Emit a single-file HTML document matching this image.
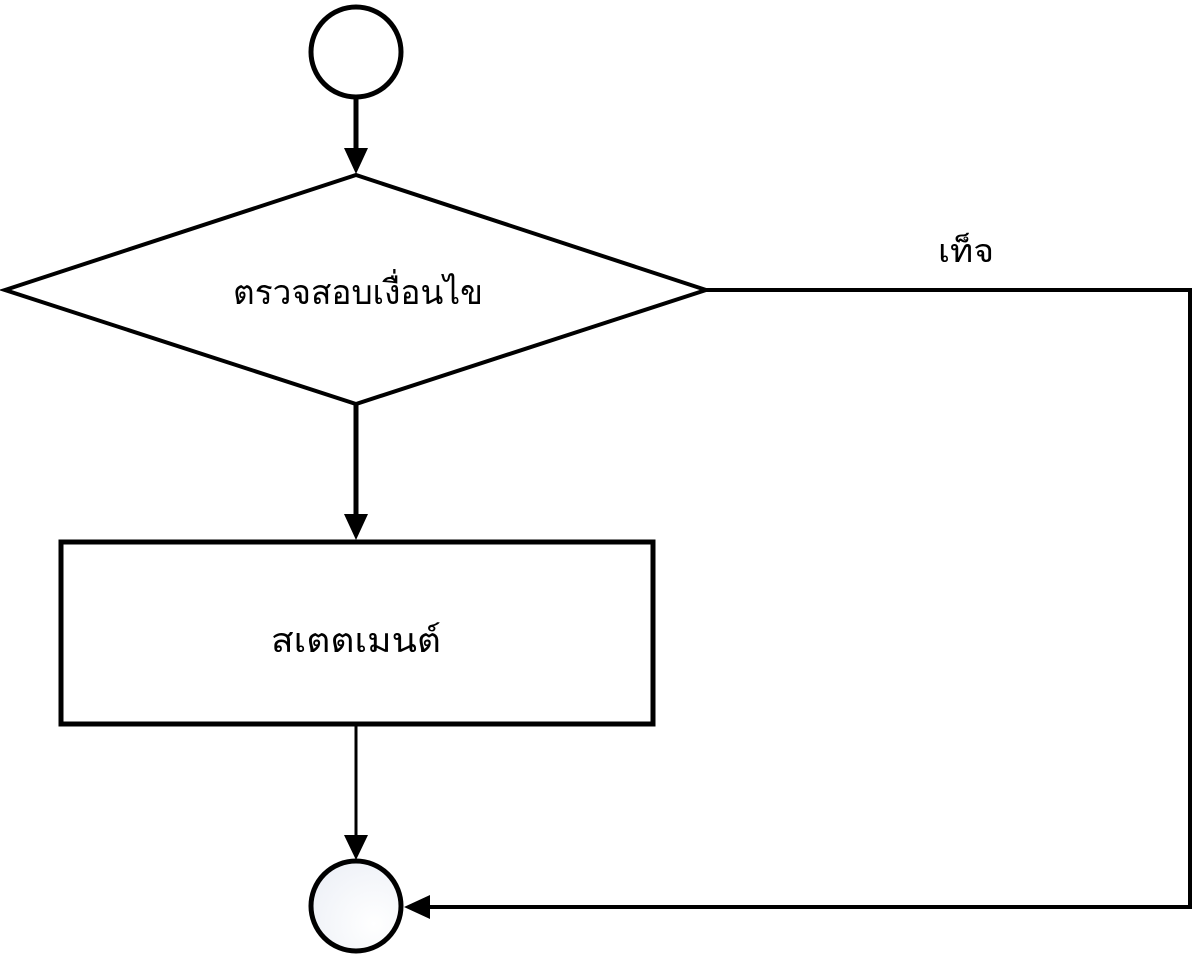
<!DOCTYPE html>
<html><head><meta charset="utf-8"><style>html,body{margin:0;padding:0;background:#fff}svg{display:block}</style></head>
<body>
<svg width="1195" height="959" viewBox="0 0 1195 959" xmlns="http://www.w3.org/2000/svg">
<defs><radialGradient id="g" cx="0.7" cy="0.7" r="0.8"><stop offset="0" stop-color="#ffffff"/><stop offset="1" stop-color="#eef1f7"/></radialGradient></defs>
<circle cx="356" cy="52" r="45" fill="#fff" stroke="#000" stroke-width="5"/>
<line x1="356" y1="97" x2="356" y2="150" stroke="#000" stroke-width="5"/>
<polygon points="344,148 368,148 356,174" fill="#000"/>
<polygon points="5,290 356,175 706,290 356,404" fill="#fff" stroke="#000" stroke-width="4"/>
<text x="358" y="304" font-family="'Liberation Sans',sans-serif" font-size="34" text-anchor="middle" textLength="250" lengthAdjust="spacingAndGlyphs">ตรวจสอบเงื่อนไข</text>
<line x1="356" y1="404" x2="356" y2="516" stroke="#000" stroke-width="5"/>
<polygon points="344,514 368,514 356,540" fill="#000"/>
<rect x="61" y="542" width="592" height="182" fill="#fff" stroke="#000" stroke-width="5"/>
<text x="356" y="652" font-family="'Liberation Sans',sans-serif" font-size="34" text-anchor="middle" textLength="170" lengthAdjust="spacingAndGlyphs">สเตตเมนต์</text>
<line x1="356" y1="724" x2="356" y2="838" stroke="#000" stroke-width="3"/>
<polygon points="344,835 368,835 356,860" fill="#000"/>
<circle cx="356" cy="906" r="45" fill="url(#g)" stroke="#000" stroke-width="5"/>
<polyline points="706,290 1190,290 1190,907 428,907" fill="none" stroke="#000" stroke-width="4"/>
<polygon points="430,895 430,919 404,907" fill="#000"/>
<text x="966" y="262" font-family="'Liberation Sans',sans-serif" font-size="32" text-anchor="middle" textLength="56" lengthAdjust="spacingAndGlyphs">เท็จ</text>
</svg>
</body></html>
